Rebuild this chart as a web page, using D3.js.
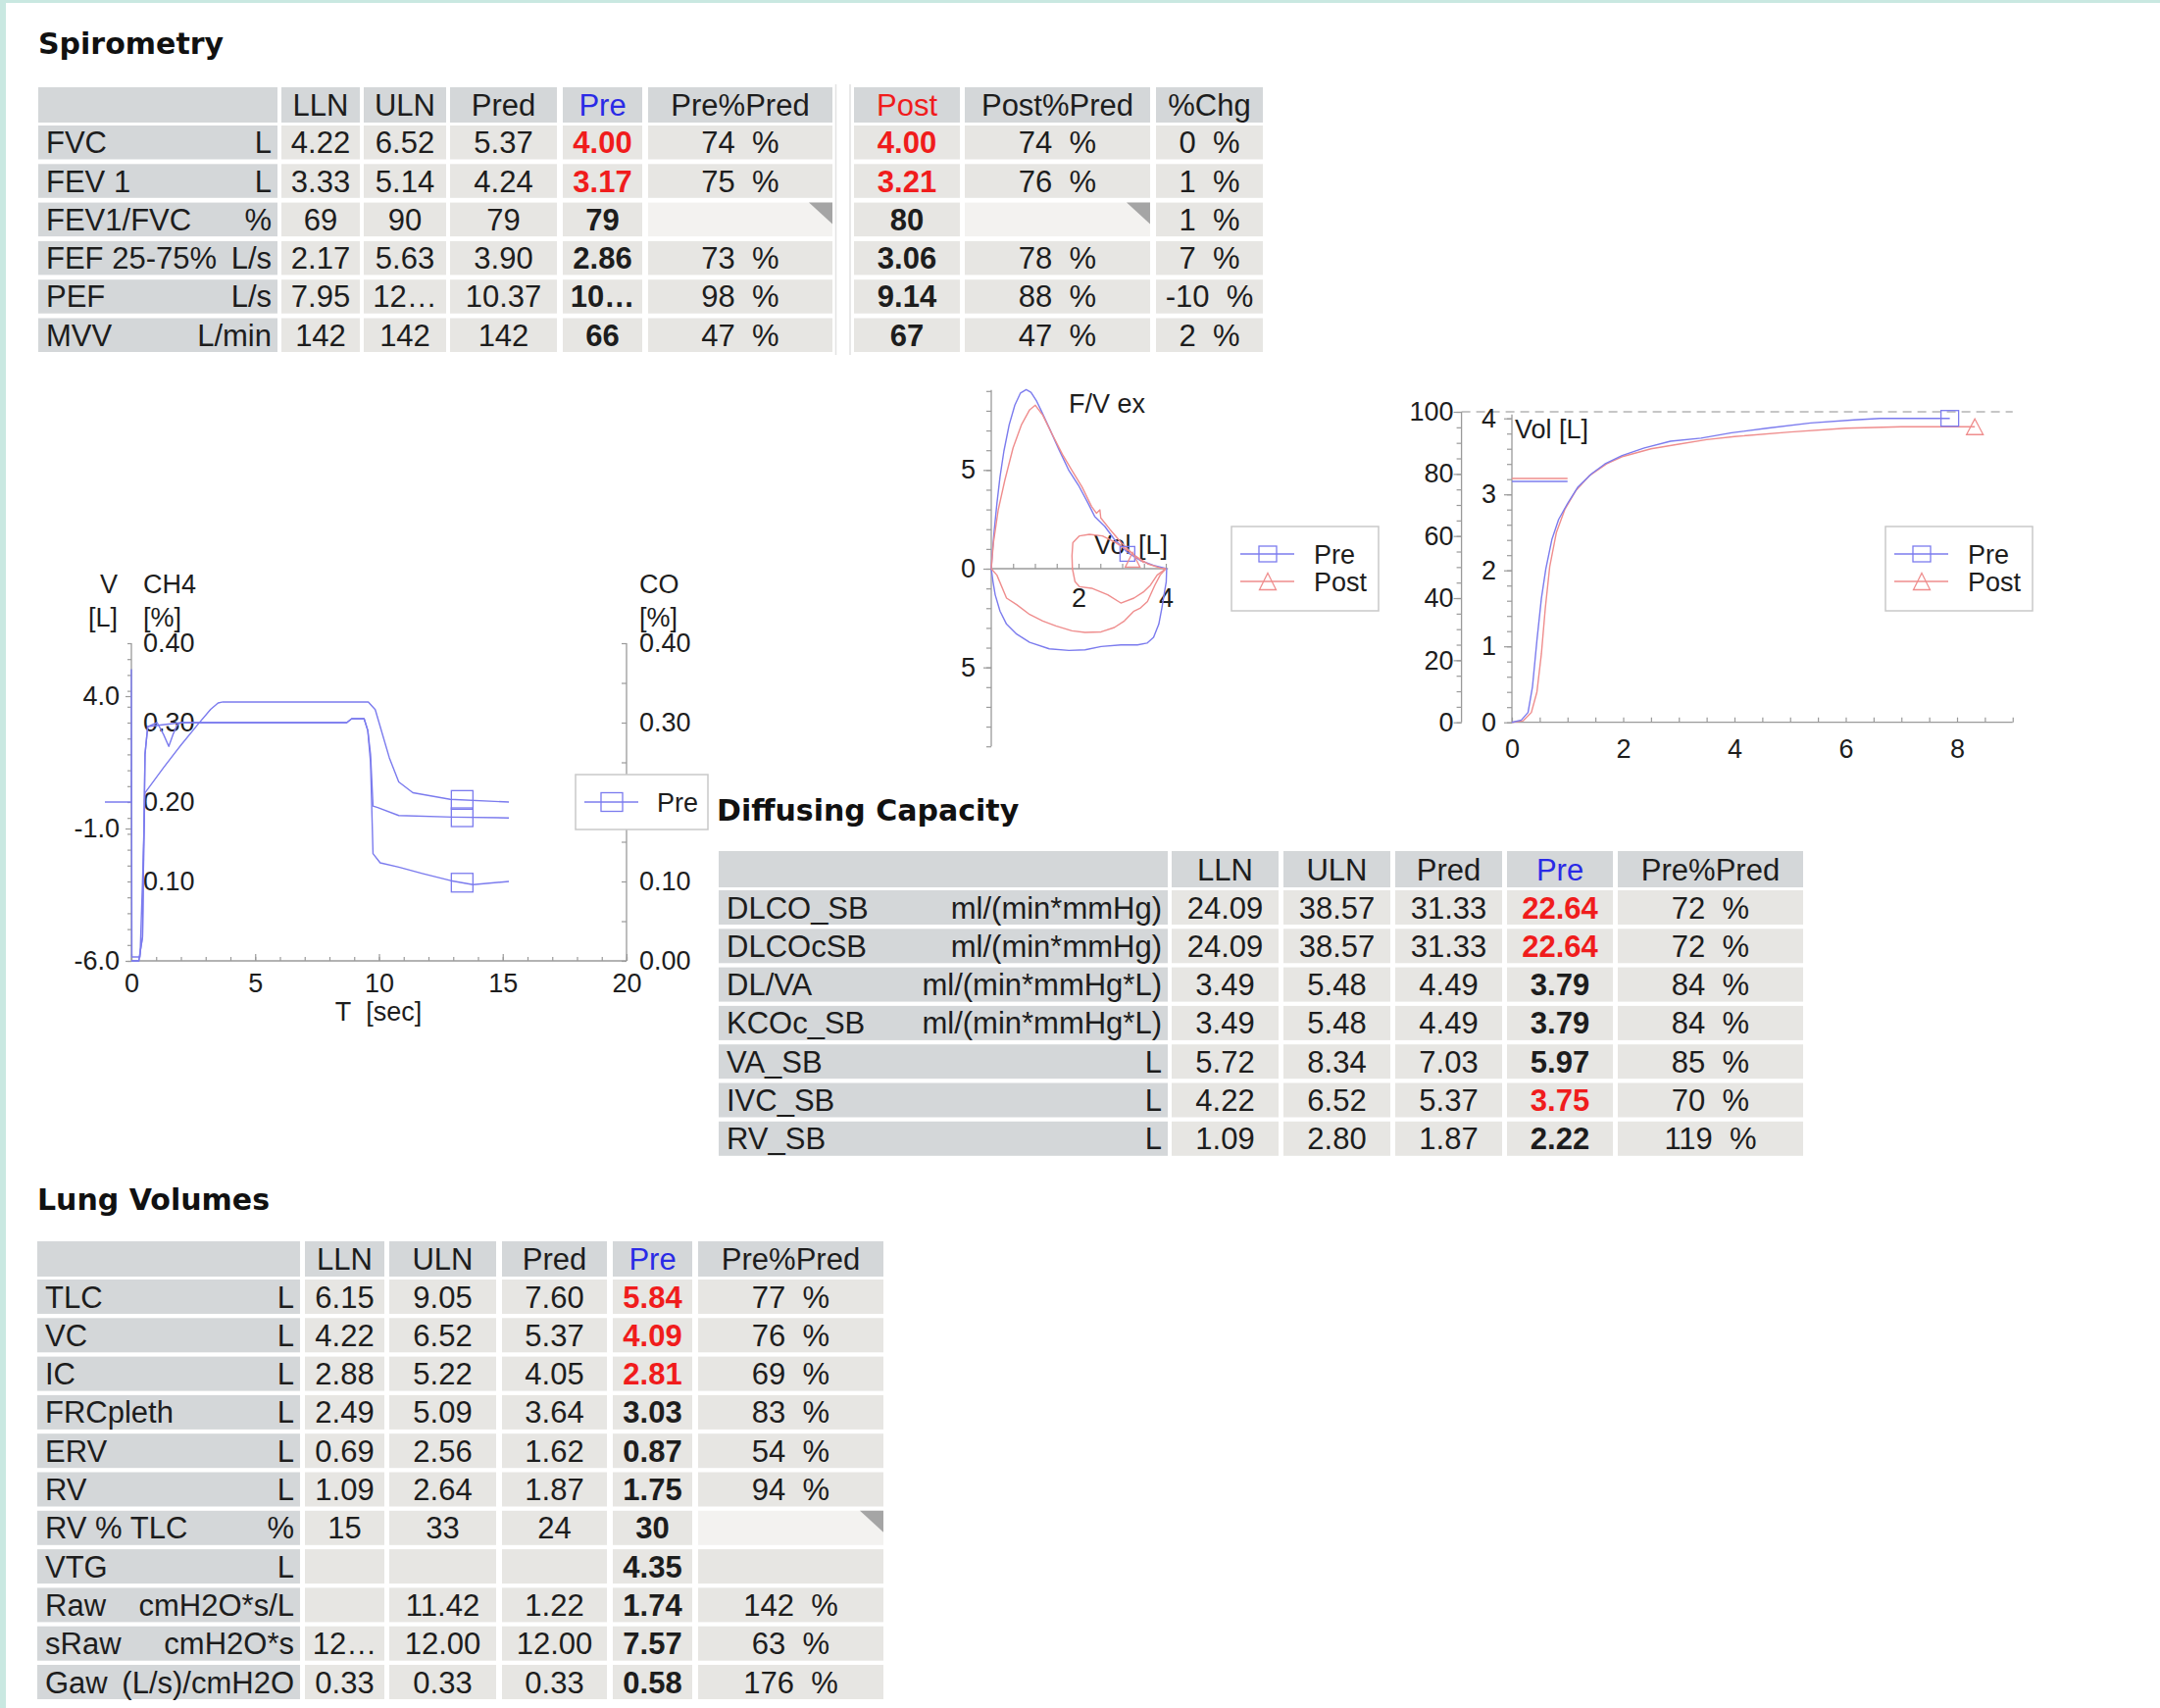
<!DOCTYPE html>
<html>
<head>
<meta charset="utf-8">
<script src="https://cdn.jsdelivr.net/npm/d3@7"></script>
<style>
  html, body { margin: 0; padding: 0; background: #fff; }
  svg { display: block; }
</style>
</head>
<body>
<div id="report"></div>
<script>
// ---------------- Spirometry table ----------------
const spiroHead = ["", "LLN", "ULN", "Pred", "Pre", "Pre%Pred"];
const spiroPostHead = ["Post", "Post%Pred", "%Chg"];
const spiroParam = ["FVC", "FEV 1", "FEV1/FVC", "FEF 25-75%", "PEF", "MVV"];
const spiroUnit = ["L", "L", "%", "L/s", "L/s", "L/min"];
const spiroLLN = ["4.22", "3.33", "69", "2.17", "7.95", "142"];
const spiroULN = ["6.52", "5.14", "90", "5.63", "12…", "142"];
const spiroPred = ["5.37", "4.24", "79", "3.90", "10.37", "142"];
const spiroPre = ["4.00", "3.17", "79", "2.86", "10…", "66"];
const spiroPrePct = [74, 75, null, 73, 98, 47];
const spiroPreLow = [true, true, false, false, false, false];
const spiroPost = ["4.00", "3.21", "80", "3.06", "9.14", "67"];
const spiroPostPct = [74, 76, null, 78, 88, 47];
const spiroChg = [0, 1, 1, 7, -10, 2];
const spiroPostLow = [true, true, false, false, false, false];

// ---------------- Diffusing capacity table ----------------
const dlcoHead = ["", "LLN", "ULN", "Pred", "Pre", "Pre%Pred"];
const dlcoParam = ["DLCO_SB", "DLCOcSB", "DL/VA", "KCOc_SB", "VA_SB", "IVC_SB", "RV_SB"];
const dlcoUnit = ["ml/(min*mmHg)", "ml/(min*mmHg)", "ml/(min*mmHg*L)", "ml/(min*mmHg*L)", "L", "L", "L"];
const dlcoLLN = ["24.09", "24.09", "3.49", "3.49", "5.72", "4.22", "1.09"];
const dlcoULN = ["38.57", "38.57", "5.48", "5.48", "8.34", "6.52", "2.80"];
const dlcoPred = ["31.33", "31.33", "4.49", "4.49", "7.03", "5.37", "1.87"];
const dlcoPre = ["22.64", "22.64", "3.79", "3.79", "5.97", "3.75", "2.22"];
const dlcoPrePct = [72, 72, 84, 84, 85, 70, 119];
const dlcoPreLow = [true, true, false, false, false, true, false];

// ---------------- Lung volumes table ----------------
const lungHead = ["", "LLN", "ULN", "Pred", "Pre", "Pre%Pred"];
const lungParam = ["TLC", "VC", "IC", "FRCpleth", "ERV", "RV", "RV % TLC", "VTG", "Raw", "sRaw", "Gaw"];
const lungUnit = ["L", "L", "L", "L", "L", "L", "%", "L", "cmH2O*s/L", "cmH2O*s", "(L/s)/cmH2O"];
const lungLLN = ["6.15", "4.22", "2.88", "2.49", "0.69", "1.09", "15", "", "", "12…", "0.33"];
const lungULN = ["9.05", "6.52", "5.22", "5.09", "2.56", "2.64", "33", "", "11.42", "12.00", "0.33"];
const lungPred = ["7.60", "5.37", "4.05", "3.64", "1.62", "1.87", "24", "", "1.22", "12.00", "0.33"];
const lungPre = ["5.84", "4.09", "2.81", "3.03", "0.87", "1.75", "30", "4.35", "1.74", "7.57", "0.58"];
const lungPrePct = [77, 76, 69, 83, 54, 94, null, "", 142, 63, 176];
const lungPreLow = [true, true, true, false, false, false, false, false, false, false, false];

// ---------------- DLCO single-breath manoeuvre ----------------
const dlTimeTicks = [0, 5, 10, 15, 20];
const dlVolTicks = [-6, -1, 4];
const dlGasTicks = [0.1, 0.2, 0.3, 0.4];
const dlCoTicks = [0, 0.1, 0.3, 0.4];
const dlVolT = [-1.07, 0, 0, 0.02, 0.35, 0.45, 0.55, 1.3, 2.0, 2.7, 3.2, 3.5, 3.7, 9.57, 9.85, 10.42, 10.8, 11.37, 12.88, 15.25];
const dlVolL = [0, 0, 5.0, -5.85, -5.85, -3.0, 0.35, 1.3, 2.15, 2.95, 3.5, 3.74, 3.78, 3.78, 3.49, 1.67, 0.76, 0.35, 0.1, 0];
const dlCh4T = [0, 0.3, 0.45, 0.55, 0.66, 1.04, 1.3, 1.51, 1.68, 1.85, 2.0, 8.7, 8.9, 9.4, 9.55, 9.66, 9.76, 9.95, 10.8, 13.0, 15.25];
const dlCh4P = [0, 0, 0.03, 0.26, 0.295, 0.30, 0.285, 0.27, 0.285, 0.297, 0.30, 0.30, 0.305, 0.305, 0.29, 0.26, 0.195, 0.193, 0.183, 0.181, 0.18];
const dlCoT = [0, 0.3, 0.45, 0.55, 0.66, 2.0, 8.7, 8.9, 9.4, 9.55, 9.66, 9.76, 10.05, 10.8, 11.75, 12.9, 13.8, 15.25];
const dlCoP = [0, 0, 0.03, 0.26, 0.295, 0.30, 0.30, 0.305, 0.305, 0.29, 0.25, 0.135, 0.1235, 0.118, 0.11, 0.101, 0.096, 0.10];
const dlMarkT = 13.36;

// ---------------- Flow / volume loop ----------------
const fvFlowTicks = [-5, 0, 5];
const fvVolTicks = [2, 4];
const fvPreExpVol = [0, 0.02, 0.07, 0.13, 0.2, 0.29, 0.41, 0.54, 0.67, 0.8, 0.91, 1.03, 1.14, 1.33, 1.55, 1.78, 2.0, 2.22, 2.37, 2.6, 2.82, 3.12, 3.42, 3.72, 4.02];
const fvPreExpFlow = [0, 0.66, 1.99, 3.31, 4.64, 5.96, 7.28, 8.28, 8.9, 9.07, 8.94, 8.53, 8.03, 7.12, 6.04, 4.97, 4.22, 3.31, 2.65, 2.15, 1.49, 0.83, 0.41, 0.17, 0];
const fvPreInsVol = [4.02, 4.01, 3.96, 3.91, 3.84, 3.72, 3.57, 3.35, 2.97, 2.52, 2.15, 1.78, 1.33, 0.88, 0.58, 0.35, 0.2, 0.09, 0.04, 0];
const fvPreInsFlow = [0, -0.66, -1.32, -1.99, -2.81, -3.48, -3.77, -3.86, -3.86, -3.94, -4.11, -4.14, -4.06, -3.73, -3.31, -2.81, -2.15, -1.32, -0.66, 0];
const fvPostExpVol = [0, 0.05, 0.16, 0.31, 0.5, 0.69, 0.88, 1.01, 1.18, 1.4, 1.63, 1.85, 2.08, 2.3, 2.41, 2.49, 2.51, 2.72, 2.98, 3.28, 3.58, 3.88, 4.0];
const fvPostExpFlow = [0, 1.32, 2.98, 4.47, 6.12, 7.28, 8.05, 8.28, 7.78, 6.79, 5.79, 4.97, 4.14, 3.15, 2.81, 2.98, 2.57, 1.99, 1.32, 0.66, 0.25, 0.03, 0];
const fvPostInsVol = [4.0, 3.87, 3.75, 3.58, 3.42, 3.27, 3.05, 2.82, 2.52, 2.15, 1.85, 1.48, 1.18, 0.88, 0.58, 0.35, 0.13, 0];
const fvPostInsFlow = [0, -0.33, -0.83, -1.66, -1.99, -2.15, -2.65, -2.98, -3.2, -3.23, -3.15, -2.9, -2.65, -2.32, -1.82, -1.49, -0.33, 0];
const fvTidalVol = [3.5, 3.2, 2.85, 2.55, 2.25, 2.02, 1.87, 1.85, 1.86, 1.92, 2.02, 2.3, 2.67, 2.97, 3.27, 3.5, 3.65, 3.8, 4.0];
const fvTidalFlow = [0.3, 0.83, 1.32, 1.66, 1.74, 1.66, 1.32, 0.66, 0, -0.66, -0.91, -0.99, -1.32, -1.74, -1.49, -1.16, -0.83, -0.33, 0];
const fvPreMark = [3.12, 0.75];
const fvPostMark = [3.24, 0.45];

// ---------------- Volume / time curve ----------------
const vtTimeTicks = [0, 2, 4, 6, 8];
const vtVolTicks = [0, 1, 2, 3, 4];
const vtPctTicks = [0, 20, 40, 60, 80, 100];
const vtPreT = [0, 0.17, 0.29, 0.37, 0.45, 0.53, 0.61, 0.72, 0.84, 1.0, 1.19, 1.43, 1.67, 1.98, 2.38, 2.85, 3.4, 3.95, 4.58, 5.37, 6.15, 6.62, 7.87];
const vtPreV = [0, 0.03, 0.13, 0.47, 1.08, 1.63, 2.02, 2.41, 2.67, 2.88, 3.1, 3.27, 3.4, 3.51, 3.61, 3.7, 3.74, 3.81, 3.87, 3.94, 3.98, 4.0, 4.0];
const vtPostT = [0, 0.2, 0.35, 0.45, 0.53, 0.6, 0.68, 0.8, 0.95, 1.15, 1.4, 1.7, 2.0, 2.5, 3.0, 3.5, 4.0, 5.0, 6.0, 7.0, 8.32];
const vtPostV = [0, 0.02, 0.13, 0.4, 0.9, 1.5, 2.05, 2.5, 2.8, 3.05, 3.25, 3.4, 3.5, 3.6, 3.66, 3.72, 3.76, 3.82, 3.87, 3.89, 3.89];
const vtPreFev1 = 3.17;
const vtPostFev1 = 3.21;

// ---------------- drawing ----------------
const W = 2203, H = 1742;
const FONT = "'Liberation Sans', Arial, Helvetica, sans-serif";
const TFONT = "'DejaVu Sans', Verdana, sans-serif";
const INK = "#1d1d1d";
const HEAD_FILL = "#d4d7d9";
const DATA_FILL = "#e7e6e3";
const BLANK_FILL = "#f3f2f0";
const RED_TXT = "#f01c1c";
const BLUE_TXT = "#2a2ae6";
const PRE_C = "#7b7bee";
const POST_C = "#ef8d8d";
const AXIS_C = "#9a9a9a";
const NB = "\u00a0\u00a0";

const svg = d3.select("#report").append("svg")
  .attr("width", W).attr("height", H).attr("viewBox", `0 0 ${W} ${H}`);
svg.append("rect").attr("width", W).attr("height", H).attr("fill", "#fff");
svg.append("rect").attr("x", 0).attr("y", 0).attr("width", W).attr("height", 3).attr("fill", "#c9e8e1");
svg.append("rect").attr("x", 0).attr("y", 0).attr("width", 6).attr("height", H).attr("fill", "#c9e8e1");

function txt(g, x, y, s, o = {}) {
  return g.append("text").attr("x", x).attr("y", y).text(s)
    .attr("font-family", o.family || FONT)
    .attr("font-size", o.size || 31)
    .attr("font-weight", o.bold ? "bold" : "normal")
    .attr("fill", o.color || INK)
    .attr("text-anchor", o.anchor || "start");
}

function title(x, y, s) {
  txt(svg, x, y, s, { family: TFONT, size: 30, bold: true, color: "#111" });
}

function pctCell(v) {
  if (v === null) return { type: "tri" };
  if (v === "") return { type: "num", text: "" };
  return { type: "num", text: v + NB + "%" };
}
function valCell(v, low, bold) {
  return { type: "num", text: v, bold: bold, color: low ? RED_TXT : INK };
}

function drawTable(g, cols, head, headTop, headH, rowTop, pitch, rowH, rows) {
  head.forEach((h, i) => {
    const [x0, x1] = cols[i];
    g.append("rect").attr("x", x0).attr("y", headTop).attr("width", x1 - x0).attr("height", headH).attr("fill", HEAD_FILL);
    if (h.text) txt(g, (x0 + x1) / 2, headTop + headH / 2 + 11, h.text, { anchor: "middle", color: h.color || INK });
  });
  rows.forEach((row, r) => {
    const y0 = rowTop + r * pitch;
    const yb = y0 + rowH / 2 + 11;
    row.forEach((c, i) => {
      const [x0, x1] = cols[i];
      const fill = c.type === "label" ? HEAD_FILL : (c.type === "tri" ? BLANK_FILL : DATA_FILL);
      g.append("rect").attr("x", x0).attr("y", y0).attr("width", x1 - x0).attr("height", rowH).attr("fill", fill);
      if (c.type === "label") {
        txt(g, x0 + 8, yb, c.name);
        txt(g, x1 - 6, yb, c.unit, { anchor: "end" });
      } else if (c.type === "tri") {
        g.append("path").attr("d", `M${x1 - 24},${y0}L${x1},${y0}L${x1},${y0 + 22}Z`).attr("fill", "#a5a5a5");
      } else {
        txt(g, (x0 + x1) / 2, yb, c.text, { anchor: "middle", bold: c.bold, color: c.color });
      }
    });
  });
}

function headerCells(names) {
  return names.map(n => ({ text: n, color: n === "Pre" ? BLUE_TXT : (n === "Post" ? RED_TXT : INK) }));
}

// Spirometry
title(39, 55, "Spirometry");
const gSp = svg.append("g");
drawTable(gSp,
  [[39, 283], [287, 367], [371, 455], [459, 568], [574, 655], [661, 849]],
  headerCells(spiroHead), 89, 36, 128, 39.3, 34.5,
  spiroParam.map((p, i) => [
    { type: "label", name: p, unit: spiroUnit[i] },
    valCell(spiroLLN[i], false, false),
    valCell(spiroULN[i], false, false),
    valCell(spiroPred[i], false, false),
    valCell(spiroPre[i], spiroPreLow[i], true),
    pctCell(spiroPrePct[i])
  ]));
drawTable(gSp,
  [[871, 979], [984, 1173], [1179, 1288]],
  headerCells(spiroPostHead), 89, 36, 128, 39.3, 34.5,
  spiroParam.map((p, i) => [
    valCell(spiroPost[i], spiroPostLow[i], true),
    pctCell(spiroPostPct[i]),
    pctCell(spiroChg[i])
  ]));
gSp.append("line").attr("x1", 852.5).attr("x2", 852.5).attr("y1", 86).attr("y2", 362).attr("stroke", "#e2e2e2").attr("stroke-width", 1.5);
gSp.append("line").attr("x1", 867).attr("x2", 867).attr("y1", 86).attr("y2", 362).attr("stroke", "#e2e2e2").attr("stroke-width", 1.5);

// Diffusing capacity
title(731, 837, "Diffusing Capacity");
drawTable(svg.append("g"),
  [[733, 1191], [1195, 1304], [1309, 1418], [1423, 1532], [1537, 1645], [1650, 1839]],
  headerCells(dlcoHead), 868, 37, 908, 39.3, 35,
  dlcoParam.map((p, i) => [
    { type: "label", name: p, unit: dlcoUnit[i] },
    valCell(dlcoLLN[i], false, false),
    valCell(dlcoULN[i], false, false),
    valCell(dlcoPred[i], false, false),
    valCell(dlcoPre[i], dlcoPreLow[i], true),
    pctCell(dlcoPrePct[i])
  ]));

// Lung volumes
title(38, 1234, "Lung Volumes");
drawTable(svg.append("g"),
  [[38, 306], [311, 392], [397, 506], [512, 619], [625, 706], [712, 901]],
  headerCells(lungHead), 1266, 36, 1305, 39.3, 35,
  lungParam.map((p, i) => [
    { type: "label", name: p, unit: lungUnit[i] },
    valCell(lungLLN[i], false, false),
    valCell(lungULN[i], false, false),
    valCell(lungPred[i], false, false),
    valCell(lungPre[i], lungPreLow[i], true),
    pctCell(lungPrePct[i])
  ]));

// ---------- chart helpers ----------
function styleAxis(sel) {
  sel.select(".domain").remove();
  sel.selectAll(".tick line").attr("stroke", AXIS_C).attr("stroke-width", 1.2);
  sel.selectAll(".tick text").attr("font-family", FONT).attr("font-size", 27).attr("fill", INK);
}
function axisLine(g, x1, y1, x2, y2) {
  g.append("line").attr("x1", x1).attr("y1", y1).attr("x2", x2).attr("y2", y2)
    .attr("stroke", AXIS_C).attr("stroke-width", 1.3);
}
function trace(g, xs, ys, sx, sy, color) {
  const pts = xs.map((x, i) => [sx(x), sy(ys[i])]);
  g.append("path").attr("d", d3.line()(pts)).attr("fill", "none")
    .attr("stroke", color).attr("stroke-width", 1.4).attr("stroke-linejoin", "round");
}
function interpAt(xs, ys, x) {
  for (let i = xs.length - 1; i > 0; i--) {
    if (xs[i - 1] <= x && x <= xs[i] && xs[i] > xs[i - 1]) {
      const f = (x - xs[i - 1]) / (xs[i] - xs[i - 1]);
      return ys[i - 1] + f * (ys[i] - ys[i - 1]);
    }
  }
  return ys[ys.length - 1];
}
function squareMark(g, cx, cy, w, h, color) {
  g.append("rect").attr("x", cx - w / 2).attr("y", cy - h / 2).attr("width", w).attr("height", h)
    .attr("fill", "none").attr("stroke", color).attr("stroke-width", 1.3);
}
function triMark(g, cx, cy, w, h, color) {
  g.append("path").attr("d", `M${cx},${cy - h / 2}L${cx + w / 2},${cy + h / 2}L${cx - w / 2},${cy + h / 2}Z`)
    .attr("fill", "none").attr("stroke", color).attr("stroke-width", 1.3);
}
function legendBox(g, x, y, w, h, items) {
  g.append("rect").attr("x", x).attr("y", y).attr("width", w).attr("height", h)
    .attr("fill", "#fff").attr("stroke", "#c9c9c9").attr("stroke-width", 1.5);
  items.forEach((it) => {
    const ly = y + it.dy;
    g.append("line").attr("x1", x + 9).attr("x2", x + 64).attr("y1", ly).attr("y2", ly)
      .attr("stroke", it.color).attr("stroke-width", 1.3);
    if (it.shape === "square") squareMark(g, x + 37, ly, it.mw, it.mh, it.color);
    else triMark(g, x + 37, ly, 17, 17, it.color);
    txt(g, x + it.tx, ly + 10, it.label, { size: 27 });
  });
}

// ---------- DLCO manoeuvre chart ----------
const c1 = svg.append("g");
const tX = d3.scaleLinear().domain([0, 20]).range([134, 639]);
const gasY = d3.scaleLinear().domain([0, 0.4]).range([980, 656]);
const volY = d3.scaleLinear().domain([-6, 6]).range([980, 656]);

axisLine(c1, 134, 656, 134, 980);
axisLine(c1, 134, 980, 639, 980);
axisLine(c1, 639, 656, 639, 980);

c1.append("g").attr("transform", "translate(0,980)")
  .call(d3.axisBottom(tX).tickValues(d3.range(0, 21)).tickSize(-4).tickFormat("")).call(styleAxis);
c1.append("g").attr("transform", "translate(0,980)")
  .call(d3.axisBottom(tX).tickValues(dlTimeTicks).tickSize(-7).tickPadding(13).tickFormat(d3.format("d"))).call(styleAxis);
c1.append("g").attr("transform", "translate(134,0)")
  .call(d3.axisLeft(gasY).tickValues(d3.range(0, 0.4001, 0.02)).tickSize(4).tickFormat("")).call(styleAxis);
c1.append("g").attr("transform", "translate(134,0)")
  .call(d3.axisLeft(volY).tickValues(dlVolTicks).tickSize(6).tickPadding(6).tickFormat(d => d.toFixed(1))).call(styleAxis);
c1.append("g").attr("transform", "translate(134,0)")
  .call(d3.axisRight(gasY).tickValues(dlGasTicks).tickSize(0).tickPadding(12).tickFormat(d => d.toFixed(2))).call(styleAxis);
c1.append("g").attr("transform", "translate(639,0)")
  .call(d3.axisLeft(gasY).tickValues(d3.range(0, 0.4001, 0.05)).tickSize(5).tickFormat("")).call(styleAxis);
c1.append("g").attr("transform", "translate(639,0)")
  .call(d3.axisRight(gasY).tickValues(dlCoTicks).tickSize(0).tickPadding(13).tickFormat(d => d.toFixed(2))).call(styleAxis);

txt(c1, 120, 605, "V", { size: 27, anchor: "end" });
txt(c1, 120, 639, "[L]", { size: 27, anchor: "end" });
txt(c1, 146, 605, "CH4", { size: 27 });
txt(c1, 146, 639, "[%]", { size: 27 });
txt(c1, 652, 605, "CO", { size: 27 });
txt(c1, 652, 639, "[%]", { size: 27 });
txt(c1, 386, 1041, "T" + NB + "[sec]", { size: 27, anchor: "middle" });

trace(c1, dlCoT, dlCoP, tX, gasY, PRE_C);
trace(c1, dlCh4T, dlCh4P, tX, gasY, PRE_C);
trace(c1, dlVolT, dlVolL, tX, volY, PRE_C);
squareMark(c1, tX(dlMarkT), volY(interpAt(dlVolT, dlVolL, dlMarkT)), 22, 19, PRE_C);
squareMark(c1, tX(dlMarkT), gasY(interpAt(dlCh4T, dlCh4P, dlMarkT)), 22, 19, PRE_C);
squareMark(c1, tX(dlMarkT), gasY(interpAt(dlCoT, dlCoP, dlMarkT)), 22, 19, PRE_C);

legendBox(c1, 587, 790, 135, 56, [
  { label: "Pre", color: PRE_C, shape: "square", dy: 28, tx: 83, mw: 22, mh: 19 }
]);

// ---------- Flow / volume chart ----------
const c2 = svg.append("g");
const fvX = d3.scaleLinear().domain([0, 4]).range([1011, 1189]);
const fvY = d3.scaleLinear().domain([-9, 9]).range([761.2, 398.8]);

axisLine(c2, 1011, fvY(9.05), 1011, fvY(-9));
axisLine(c2, 1011, fvY(0), fvX(4.05), fvY(0));
c2.append("g").attr("transform", "translate(1011,0)")
  .call(d3.axisLeft(fvY).tickValues(d3.range(-9, 10)).tickSize(5).tickFormat("")).call(styleAxis);
c2.append("g").attr("transform", "translate(1011,0)")
  .call(d3.axisLeft(fvY).tickValues(fvFlowTicks).tickSize(8).tickPadding(8).tickFormat(d => Math.abs(d))).call(styleAxis);
c2.append("g").attr("transform", `translate(0,${fvY(0)})`)
  .call(d3.axisBottom(fvX).tickValues(d3.range(0.5, 4.01, 0.5)).tickSize(-5).tickFormat("")).call(styleAxis);
c2.append("g").attr("transform", `translate(0,${fvY(0)})`)
  .call(d3.axisBottom(fvX).tickValues(fvVolTicks).tickSize(0).tickPadding(20).tickFormat(d3.format("d"))).call(styleAxis);

txt(c2, 1090, 421, "F/V ex", { size: 27 });
txt(c2, 1191, 565, "Vol [L]", { size: 27, anchor: "end" });

trace(c2, fvPreExpVol, fvPreExpFlow, fvX, fvY, PRE_C);
trace(c2, fvPreInsVol, fvPreInsFlow, fvX, fvY, PRE_C);
trace(c2, fvPostExpVol, fvPostExpFlow, fvX, fvY, POST_C);
trace(c2, fvPostInsVol, fvPostInsFlow, fvX, fvY, POST_C);
trace(c2, fvTidalVol, fvTidalFlow, fvX, fvY, POST_C);
squareMark(c2, fvX(fvPreMark[0]), fvY(fvPreMark[1]), 15, 15, PRE_C);
triMark(c2, fvX(fvPostMark[0]), fvY(fvPostMark[1]), 15, 15, POST_C);

legendBox(c2, 1256, 537, 150, 86, [
  { label: "Pre", color: PRE_C, shape: "square", dy: 28, tx: 84, mw: 18, mh: 16 },
  { label: "Post", color: POST_C, shape: "tri", dy: 56, tx: 84 }
]);

// ---------- Volume / time chart ----------
const c3 = svg.append("g");
const vtX = d3.scaleLinear().domain([0, 9]).range([1542, 2052.75]);
const vtY = d3.scaleLinear().domain([0, 4]).range([736.7, 426.7]);
const vtP = d3.scaleLinear().domain([0, 100]).range([736.7, 420]);

c3.append("line").attr("x1", 1490.6).attr("x2", vtX(9)).attr("y1", vtP(100)).attr("y2", vtP(100))
  .attr("stroke", "#b4b4b4").attr("stroke-width", 1.3).attr("stroke-dasharray", "9,6");
axisLine(c3, 1490.6, vtP(0), 1490.6, vtP(100));
axisLine(c3, 1542, vtY(0), 1542, vtY(4.05));
axisLine(c3, 1542, vtY(0), vtX(9), vtY(0));

c3.append("g").attr("transform", "translate(1490.6,0)")
  .call(d3.axisLeft(vtP).tickValues(d3.range(0, 101, 5)).tickSize(5).tickFormat("")).call(styleAxis);
c3.append("g").attr("transform", "translate(1490.6,0)")
  .call(d3.axisLeft(vtP).tickValues(vtPctTicks).tickSize(8).tickPadding(0).tickFormat(d3.format("d"))).call(styleAxis);
c3.append("g").attr("transform", "translate(1542,0)")
  .call(d3.axisLeft(vtY).tickValues(d3.range(0, 4.01, 0.2)).tickSize(5).tickFormat("")).call(styleAxis);
c3.append("g").attr("transform", "translate(1542,0)")
  .call(d3.axisLeft(vtY).tickValues(vtVolTicks).tickSize(8).tickPadding(8).tickFormat(d3.format("d"))).call(styleAxis);
c3.append("g").attr("transform", `translate(0,${vtY(0)})`)
  .call(d3.axisBottom(vtX).tickValues(d3.range(0, 9.01, 0.5)).tickSize(-5).tickFormat("")).call(styleAxis);
c3.append("g").attr("transform", `translate(0,${vtY(0)})`)
  .call(d3.axisBottom(vtX).tickValues(vtTimeTicks).tickSize(0).tickPadding(17).tickFormat(d3.format("d"))).call(styleAxis);

txt(c3, 1545, 447, "Vol [L]", { size: 27 });

c3.append("line").attr("x1", vtX(0)).attr("x2", vtX(1)).attr("y1", vtY(vtPostFev1)).attr("y2", vtY(vtPostFev1))
  .attr("stroke", POST_C).attr("stroke-width", 1.4);
c3.append("line").attr("x1", vtX(0)).attr("x2", vtX(1)).attr("y1", vtY(vtPreFev1)).attr("y2", vtY(vtPreFev1))
  .attr("stroke", PRE_C).attr("stroke-width", 1.4);
trace(c3, vtPostT, vtPostV, vtX, vtY, POST_C);
trace(c3, vtPreT, vtPreV, vtX, vtY, PRE_C);
squareMark(c3, vtX(vtPreT[vtPreT.length - 1]), vtY(vtPreV[vtPreV.length - 1]), 18, 16, PRE_C);
triMark(c3, vtX(vtPostT[vtPostT.length - 1]), vtY(vtPostV[vtPostV.length - 1]), 17, 16, POST_C);

legendBox(c3, 1923, 537, 150, 86, [
  { label: "Pre", color: PRE_C, shape: "square", dy: 28, tx: 84, mw: 18, mh: 16 },
  { label: "Post", color: POST_C, shape: "tri", dy: 56, tx: 84 }
]);
</script>
</body>
</html>
